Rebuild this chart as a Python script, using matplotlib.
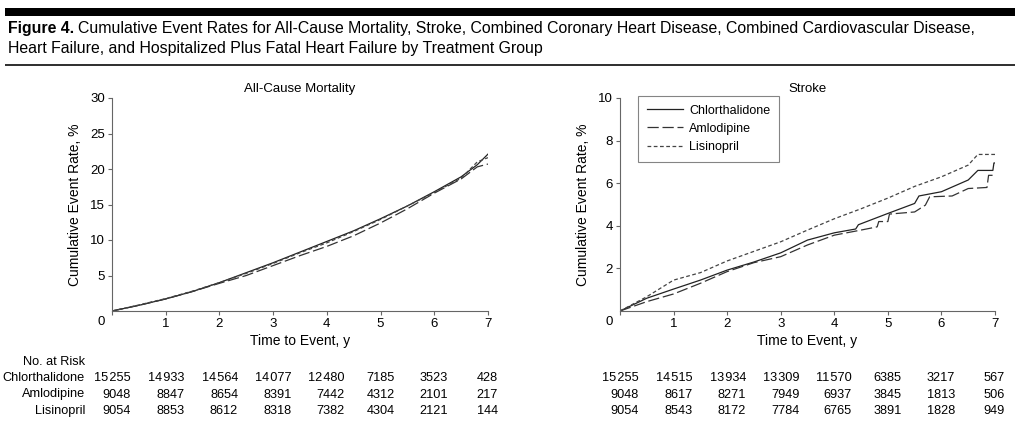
import matplotlib
matplotlib.use("Agg")
from matplotlib import pyplot as plt
from matplotlib import transforms

# risk-table numbers
groups = ["Chlorthalidone", "Amlodipine", "Lisinopril"]
years = [0, 1, 2, 3, 4, 5, 6, 7]
risk_mortality = [
    [15255, 14933, 14564, 14077, 12480, 7185, 3523, 428],
    [9048, 8847, 8654, 8391, 7442, 4312, 2101, 217],
    [9054, 8853, 8612, 8318, 7382, 4304, 2121, 144],
]
risk_stroke = [
    [15255, 14515, 13934, 13309, 11570, 6385, 3217, 567],
    [9048, 8617, 8271, 7949, 6937, 3845, 1813, 506],
    [9054, 8543, 8172, 7784, 6765, 3891, 1828, 949],
]

# all-cause mortality curves
mort_t = [0, 0.5, 1, 1.5, 2, 2.5, 3, 3.5, 4, 4.5, 5, 5.5, 6, 6.5, 6.8, 7]
mort_chlor = [0, 0.8, 1.7, 2.75, 4.0, 5.4, 6.8, 8.3, 9.8, 11.3, 13.0, 14.8, 16.8, 18.9, 20.6, 22.1]
mort_amlo = [0, 0.8, 1.7, 2.75, 3.9, 5.0, 6.4, 7.8, 9.1, 10.6, 12.4, 14.4, 16.6, 18.6, 20.3, 20.7]
mort_lis = [0, 0.85, 1.75, 2.8, 4.0, 5.3, 6.7, 8.2, 9.6, 11.2, 12.9, 14.8, 16.7, 18.7, 21.0, 21.6]

# stroke curves
chlor_t = [0, 0.5, 1, 1.5, 2, 2.5, 3, 3.5, 4, 4.4, 4.45, 5, 5.5, 5.58, 6, 6.5, 6.68, 6.96, 6.98, 7]
chlor_y = [0, 0.6, 1.03, 1.45, 1.92, 2.3, 2.73, 3.33, 3.67, 3.85, 4.05, 4.58, 5.05, 5.4, 5.6, 6.15, 6.6, 6.6, 6.95, 6.95]
amlo_t = [0, 0.5, 1, 1.5, 2, 2.5, 3, 3.5, 4, 4.5, 4.8, 4.83, 5.0, 5.03, 5.5, 5.7, 5.78, 6.2, 6.5, 6.85, 6.88, 7]
amlo_y = [0, 0.44, 0.8, 1.3, 1.85, 2.27, 2.55, 3.1, 3.56, 3.8, 3.95, 4.2, 4.2, 4.55, 4.65, 4.97, 5.36, 5.4, 5.75, 5.8, 6.37, 6.37]
lis_t = [0, 0.5, 1, 1.5, 2, 2.5, 3, 3.5, 4, 4.5, 5, 5.5, 6, 6.5, 6.68, 7]
lis_y = [0, 0.67, 1.45, 1.8, 2.35, 2.8, 3.25, 3.8, 4.33, 4.8, 5.3, 5.85, 6.3, 6.85, 7.35, 7.35]

plt.rcParams["font.family"] = ["Liberation Sans", "DejaVu Sans"]
plt.rcParams["font.size"] = 9

W, H = 1020, 434
fig = plt.figure(figsize=(W / 100, H / 100), dpi=100)

axis_grey = "#666666"
styles = [dict(color="#222222", linestyle="-"),
          dict(color="#333333", linestyle=(0, (9, 3))),
          dict(color="#444444", linestyle=(0, (3, 2)))]


def setup_axes(ax, ymax, yticks, title):
    ax.set_xlim(0, 7)
    ax.set_ylim(0, ymax)
    for side in ("top", "right"):
        ax.spines[side].set_visible(False)
    for side in ("left", "bottom"):
        ax.spines[side].set_linewidth(0.8)
        ax.spines[side].set_color(axis_grey)
    ax.set_xticks(years)
    ax.set_xticklabels([""] + [str(y) for y in years[1:]])
    ax.set_yticks(yticks)
    ax.tick_params(direction="out", length=3, width=0.8, color=axis_grey, labelsize=9.5, pad=2)
    ax.set_title(title, fontsize=9.5, pad=4)
    ax.set_xlabel("Time to Event, y", fontsize=10, labelpad=3)
    ax.set_ylabel("Cumulative Event Rate, %", fontsize=10, labelpad=6)
    ax.text(-0.02, -0.025, "0", transform=ax.transAxes, ha="right", va="top", fontsize=9.5)


def risk_table(ax, rows):
    offs = [0.35, 0.35, 0.35, 0.35, 0.33, 0.26, 0.25, 0.18]
    trans = transforms.blended_transform_factory(ax.transData, fig.transFigure)
    for r, row in enumerate(rows):
        for k, n in enumerate(row):
            s = "{:,}".format(n).replace(",", "\u200a") if n >= 10000 else str(n)
            ax.text(years[k] + offs[k], 1 - (378 + r * 16.5) / H, s, transform=trans,
                    ha="right", va="center", fontsize=9.2, clip_on=False)


ax1 = fig.add_axes([112 / W, 123 / H, 376 / W, 213 / H])
setup_axes(ax1, 30, [5, 10, 15, 20, 25, 30], "All-Cause Mortality")
ax1.plot(mort_t, mort_chlor, lw=0.9, **styles[0])
ax1.plot(mort_t, mort_amlo, lw=0.9, **styles[1])
ax1.plot(mort_t, mort_lis, lw=0.9, **styles[2])
risk_table(ax1, risk_mortality)

ax2 = fig.add_axes([620 / W, 123 / H, 375 / W, 213 / H])
setup_axes(ax2, 10, [2, 4, 6, 8, 10], "Stroke")
ax2.plot(chlor_t, chlor_y, lw=0.9, label=groups[0], **styles[0])
ax2.plot(amlo_t, amlo_y, lw=0.9, label=groups[1], **styles[1])
ax2.plot(lis_t, lis_y, lw=0.9, label=groups[2], **styles[2])
leg = ax2.legend(loc="upper left", bbox_to_anchor=(0.048, 1.01), borderaxespad=0, frameon=True,
                 fancybox=False, edgecolor=axis_grey, fontsize=9, handlelength=2.9, borderpad=0.7,
                 labelspacing=0.5, handletextpad=0.5)
leg.get_frame().set_linewidth(0.8)
risk_table(ax2, risk_stroke)

# row labels for the risk table
fig.text(85 / W, 1 - 362 / H, "No. at Risk", ha="right", va="center", fontsize=9.2)
for r, g in enumerate(groups):
    fig.text(85 / W, 1 - (378 + r * 16.5) / H, g, ha="right", va="center", fontsize=9.2)

# header: black bar, caption, rule
fig.patches.append(plt.Rectangle((5 / W, 1 - 16 / H), 1010 / W, 8 / H, transform=fig.transFigure,
                                 color="black", lw=0))
fig.patches.append(plt.Rectangle((5 / W, 1 - 65.5 / H), 1010 / W, 1 / H, transform=fig.transFigure,
                                 color="#333333", lw=0))
cap_font = ["Liberation Sans", "DejaVu Sans"]
t = fig.text(8 / W, 1 - 29 / H, "Figure 4.", ha="left", va="center", fontsize=11.4,
             fontweight="bold", family=cap_font)
fig.canvas.draw()
bb = t.get_window_extent()
fig.text((bb.x1 + 4) / W, 1 - 29 / H,
         "Cumulative Event Rates for All-Cause Mortality, Stroke, Combined Coronary Heart Disease, "
         "Combined Cardiovascular Disease,", ha="left", va="center", fontsize=11.4, family=cap_font)
fig.text(8 / W, 1 - 48 / H,
         "Heart Failure, and Hospitalized Plus Fatal Heart Failure by Treatment Group",
         ha="left", va="center", fontsize=11.4, family=cap_font)

fig.savefig("out.png", dpi=100)
